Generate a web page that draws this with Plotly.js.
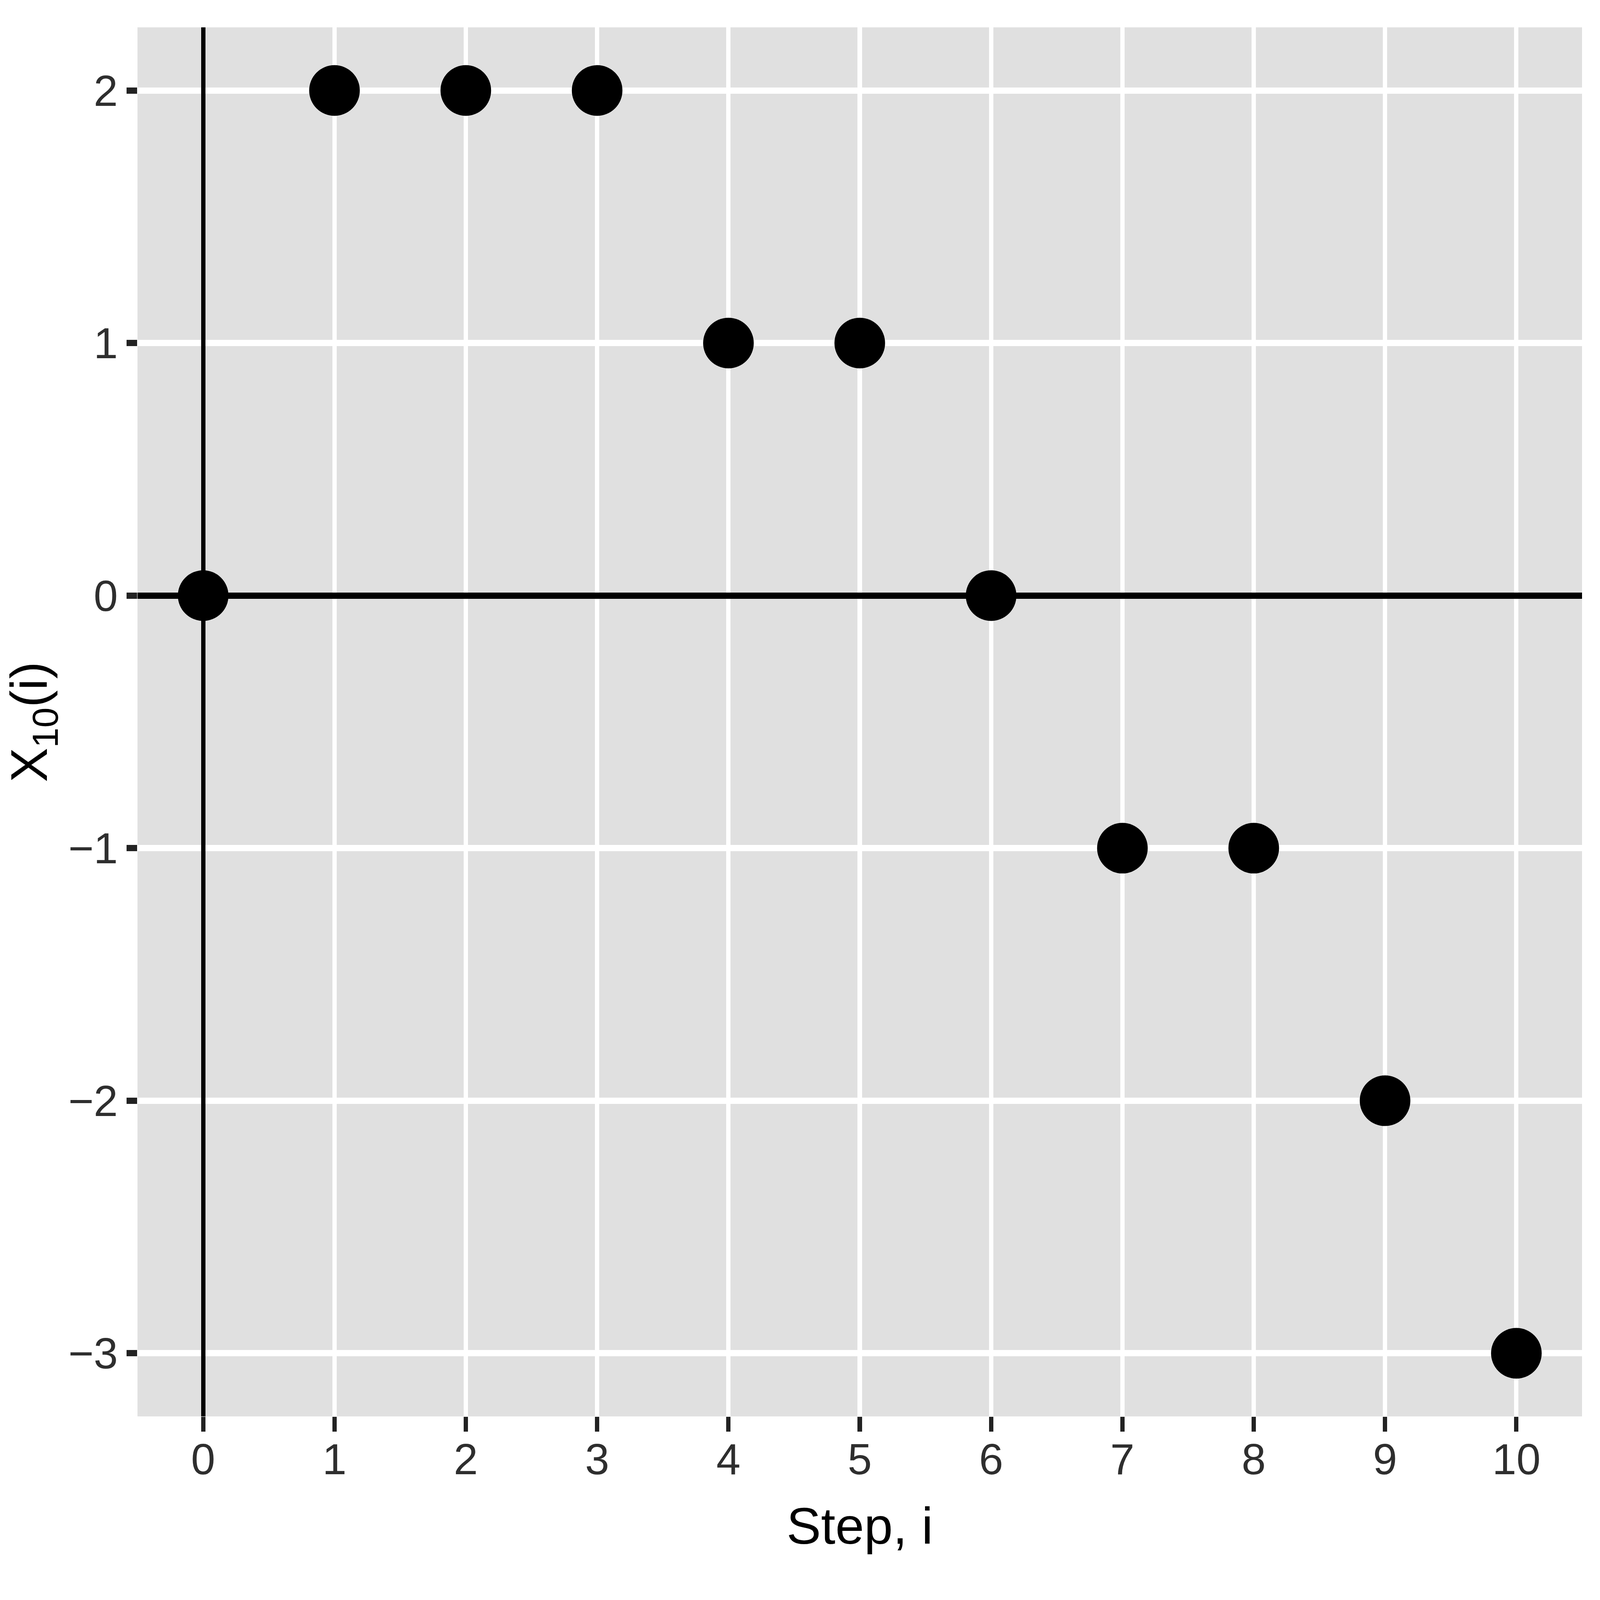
<!DOCTYPE html>
<html>
<head>
<meta charset="utf-8">
<script src="https://cdn.plot.ly/plotly-3.0.1.min.js"></script>
<style>
  html, body { margin: 0; padding: 0; background: #ffffff; overflow: hidden; }
</style>
</head>
<body>
<div id="chart"></div>
<script>
// walk positions
const steps = [0, 1, 2, 3, 4, 5, 6, 7, 8, 9, 10];
const positions = [0, 2, 2, 2, 1, 1, 0, -1, -1, -2, -3];

const xTicks = [0, 1, 2, 3, 4, 5, 6, 7, 8, 9, 10];
const yTicks = [-3, -2, -1, 0, 1, 2];

const fontFam = '"Liberation Sans", Arial, Helvetica, sans-serif';

// design is 6984x4950; stretch it to whatever window we actually get
const W = 6984, H = 4950;
let kx = (window.innerWidth || W) / W;
let ky = (window.innerHeight || H) / H;
if (!(kx > 0)) kx = 1;
if (!(ky > 0)) ky = 1;
const kf = Math.sqrt(kx * ky);
const sx = v => v * kx, sy = v => v * ky, sf = v => v * kf;

const box = document.getElementById('chart');
box.style.width = sx(W) + 'px';
box.style.height = sy(H) + 'px';

const trace = {
  x: steps,
  y: positions,
  type: 'scatter',
  mode: 'markers',
  marker: { color: '#000000', size: sf(186), line: { width: 0 } },
  hoverinfo: 'x+y'
};

const tickFont = { family: fontFam, size: sf(160), color: '#2e2e2e' };
const titleFont = { family: fontFam, size: sf(190), color: '#000000' };

const layout = {
  width: sx(W),
  height: sy(H),
  margin: { l: sx(601), r: sx(78), t: sy(85), b: sy(568), pad: 0 },
  paper_bgcolor: '#ffffff',
  plot_bgcolor: '#E0E0E0',
  showlegend: false,
  font: { family: fontFam, color: '#000000' },
  xaxis: {
    range: [-0.5, 10.5],
    tickvals: xTicks,
    ticktext: xTicks.map(String),
    ticks: 'outside',
    ticklen: sy(46),
    tickwidth: sx(19),
    tickcolor: '#222222',
    tickfont: tickFont,
    ticklabelstandoff: Math.round(sy(-30)),
    showgrid: true,
    gridcolor: '#ffffff',
    gridwidth: sx(19),
    zeroline: true,
    zerolinecolor: '#000000',
    zerolinewidth: sx(19),
    showline: false,
    title: { text: 'Step, i', font: titleFont, standoff: sy(75) }
  },
  yaxis: {
    range: [-3.25, 2.25],
    tickvals: yTicks,
    ticks: 'outside',
    ticklen: sx(46),
    tickwidth: sy(19),
    tickcolor: '#222222',
    tickfont: tickFont,
    showgrid: true,
    gridcolor: '#ffffff',
    gridwidth: sy(19),
    zeroline: true,
    zerolinecolor: '#000000',
    zerolinewidth: sy(19),
    showline: false,
    title: { text: 'X<sub>10</sub>(i)', font: titleFont, standoff: sx(25) }
  }
};

Plotly.newPlot('chart', [trace], layout, { displayModeBar: false, staticPlot: true });
</script>
</body>
</html>
